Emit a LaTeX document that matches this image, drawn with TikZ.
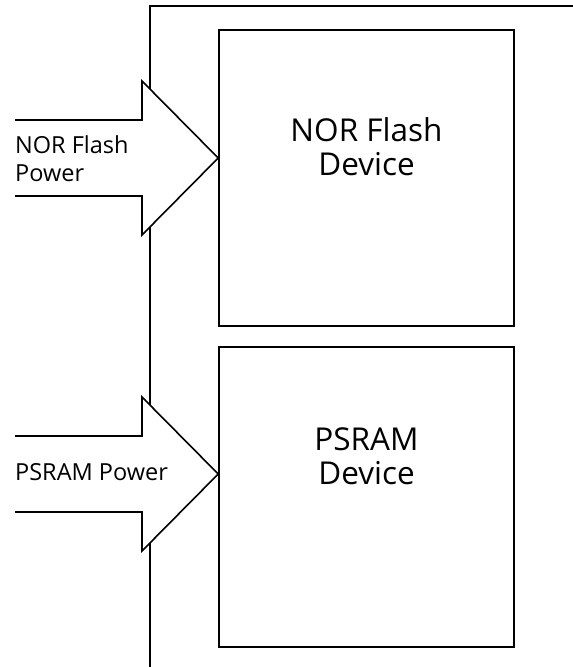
\documentclass[tikz,border=0pt]{standalone}
\usepackage{fontspec}
\setmainfont{Open Sans}
\usetikzlibrary{positioning,calc}
\tikzset{
devbox/.style={draw, line width=1.6pt, minimum width=295pt, minimum height=296pt, inner sep=0pt},
devtext/.style={font=\fontsize{31.5}{34}\selectfont, align=center},
pwrtext/.style={font=\fontsize{23.5}{28}\selectfont, align=left, anchor=west, inner sep=0pt},
pwrarrow/.style={draw, fill=white, line width=1.6pt, line join=miter},
}
\begin{document}
\begin{tikzpicture}[x=1pt,y=-1pt]
\useasboundingbox (0,0) rectangle (573,667);
% frame
\coordinate (ftop) at (573,6);
\coordinate (fcorner) at (150,6);
\coordinate (fbot) at (150,667);
\draw[line width=1.6pt] (ftop) -- (fcorner) -- (fbot);

\node (nor) at (366.5,178) [devbox] {};
\node (psram) at (366.5,497) [devbox, minimum height=300pt] {};
\node (nortxt) at (366.5,147) [devtext] {NOR Flash\\Device};
\node (psramtxt) at (366.5,456) [devtext] {PSRAM\\Device};

% power arrows
\coordinate (nortip) at ($(nor.west)+(0,-20)$);
\coordinate (psramtip) at ($(psram.west)+(0,-23)$);
\draw[pwrarrow] (15,120) -- (142,120) -- (142,81) -- (nortip) -- (142,235) -- (142,196) -- (15,196);
\draw[pwrarrow] (15,436) -- (142,436) -- (142,397) -- (psramtip) -- (142,551) -- (142,512) -- (15,512);
\node (norpwr) at (15,159) [pwrtext] {NOR Flash\\Power};
\node (psrampwr) at (15,472) [pwrtext] {PSRAM Power};
\end{tikzpicture}
\end{document}
